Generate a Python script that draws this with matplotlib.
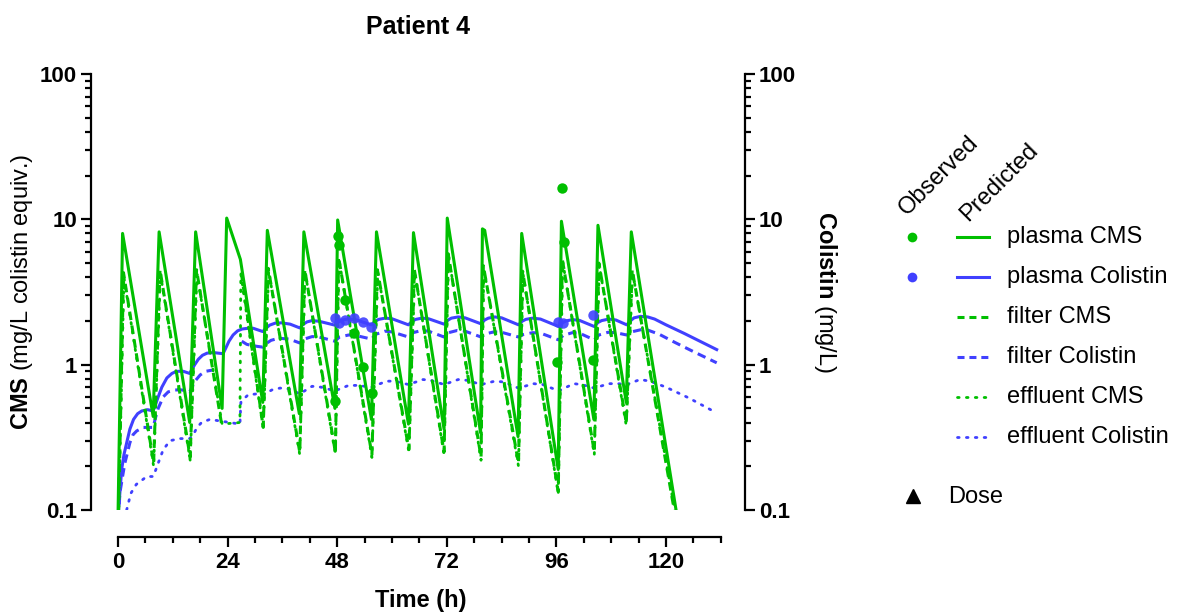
import matplotlib
matplotlib.use("Agg")
import numpy as np
import matplotlib.pyplot as plt
from matplotlib.ticker import FixedLocator, NullFormatter
from matplotlib.lines import Line2D

plt.rcParams['font.family'] = ['Liberation Sans', 'DejaVu Sans']
plt.rcParams['mathtext.fontset'] = 'custom'
plt.rcParams['mathtext.rm'] = 'Liberation Sans'
plt.rcParams['mathtext.bf'] = 'Liberation Sans:bold'

nan = np.nan

# ---------------- data ----------------
TITLE = "Patient 4"
X_TICKS = [0, 24, 48, 72, 96, 120]
Y_TICKS = [0.1, 1, 10, 100]
Y_TICK_LABELS = ["0.1", "1", "10", "100"]

plasma_cms_t = [0.0, 1.0, 7.7, 9.0, 15.7, 17.0, 22.8, 23.8, 26.8, 31.7, 32.7, 39.7, 40.7,
                47.5, 48.1, 55.5, 56.6, 63.6, 64.7, 71.4, 72.1, 79.4, 79.8, 80.3, 87.6, 88.4,
                96.4, 97.1, 104.2, 105.1, 111.3, 112.4, 122.2, 124.0]
plasma_cms_v = [0.09, 8.0, 0.44, 8.2, 0.40, 8.2, 0.50, 10.2, 5.3, 0.55, 8.4, 0.46, 8.2,
                0.50, 9.9, 0.42, 8.2, 0.39, 8.1, 0.36, 10.2, 0.34, 8.6, 8.4, 0.32, 8.0,
                0.19, 9.7, 0.42, 9.1, 0.55, 8.2, 0.10, 0.07]

filter_cms_t = [0.0, 1.2, 7.8, 9.2, 15.8, 17.2, 22.8, nan, 27.0, 31.8, 32.9, 39.8, 40.9,
                47.6, 48.3, 55.6, 56.8, 63.7, 64.9, 71.4, 72.3, 79.5, 80.0, 87.7, 88.6,
                96.4, 97.3, 104.3, 105.3, 111.3, 112.6, 121.8, 123.5]
filter_cms_v = [0.06, 4.3, 0.21, 4.5, 0.23, 4.5, 0.37, nan, 4.3, 0.37, 4.6, 0.25, 4.5,
                0.25, 5.5, 0.24, 4.5, 0.26, 4.5, 0.25, 5.8, 0.23, 4.8, 0.21, 4.4,
                0.134, 5.3, 0.25, 5.0, 0.40, 4.5, 0.10, 0.06]

effluent_cms_t = [0.0, 1.3, 7.8, 9.3, 15.8, 17.3, 22.8, 26.7, 26.9, 31.8, 33.0, 39.8, 41.0,
                  47.6, 48.4, 55.6, 56.9, 63.7, 65.0, 71.4, 72.4, 79.5, 80.1, 87.7, 88.7,
                  96.4, 97.4, 104.3, 105.4, 111.3, 112.7, 121.9, 123.5]
effluent_cms_v = [0.06, 4.0, 0.20, 4.2, 0.22, 4.2, 0.39, 0.40, 4.2, 0.36, 4.4, 0.24, 4.3,
                  0.24, 5.3, 0.23, 4.3, 0.25, 4.3, 0.24, 5.6, 0.22, 4.6, 0.20, 4.2,
                  0.13, 5.1, 0.24, 4.8, 0.38, 4.3, 0.10, 0.06]

plasma_col_t = [0.0, 0.4, 0.8, 1.3, 1.9, 2.6, 3.4, 4.3, 5.2, 6.5, 7.7,
                8.2, 8.8, 9.6, 10.7, 11.8, 12.8, 14.3, 15.7,
                16.2, 16.8, 17.6, 18.5, 19.5, 21.0, 23.0,
                23.6, 24.3, 25.2, 26.2, 27.2, 28.5, 29.6, 31.7,
                32.4, 33.2, 34.4, 35.8, 37.7, 39.8,
                40.6, 41.4, 42.5, 44.0, 47.5,
                48.3, 49.1, 50.3, 52.0, 55.5,
                56.3, 57.1, 58.5, 60.0, 63.6,
                64.4, 65.2, 66.6, 68.0, 71.4,
                72.2, 73.0, 74.5, 76.0, 79.5,
                80.3, 81.1, 82.5, 84.0, 87.7,
                88.5, 89.3, 90.8, 92.5, 96.5,
                97.3, 98.1, 99.5, 101.0, 104.3,
                105.1, 105.9, 107.5, 109.0, 111.4,
                112.2, 113.0, 114.4, 116.0, 117.5, 120.0, 124.0, 128.0, 131.1]
plasma_col_v = [0.09, 0.13, 0.19, 0.24, 0.29, 0.36, 0.42, 0.46, 0.48, 0.49, 0.48,
                0.53, 0.60, 0.70, 0.81, 0.87, 0.90, 0.90, 0.87,
                0.93, 1.00, 1.09, 1.16, 1.20, 1.21, 1.19,
                1.30, 1.45, 1.60, 1.71, 1.76, 1.78, 1.78, 1.69,
                1.78, 1.87, 1.93, 1.94, 1.90, 1.79,
                1.90, 1.97, 2.01, 1.99, 1.87,
                1.97, 2.03, 2.06, 2.04, 1.88,
                1.99, 2.05, 2.09, 2.07, 1.88,
                1.99, 2.05, 2.09, 2.07, 1.90,
                2.02, 2.09, 2.13, 2.10, 1.91,
                2.03, 2.09, 2.13, 2.10, 1.88,
                1.99, 2.05, 2.09, 2.06, 1.83,
                1.94, 2.00, 2.04, 2.02, 1.83,
                1.95, 2.01, 2.06, 2.03, 1.88,
                2.00, 2.10, 2.15, 2.13, 2.06, 1.88, 1.64, 1.42, 1.27]

filter_col_t = [0.0, 0.4, 1.0, 1.5, 2.1, 2.6, 3.3, 4.1, 5.5, 7.7,
                8.2, 8.8, 9.9, 11.0, 12.5, 14.0, 15.7,
                16.3, 17.0, 18.0, 19.2, 20.9, nan,
                27.1, 28.2, 29.5, 31.7, 32.5, 33.5, 35.2, 37.5, 39.8,
                40.8, 42.5, 44.0, 47.5,
                48.5, 50.5, 52.0, 55.5,
                56.5, 58.5, 60.0, 63.6,
                64.6, 66.5, 68.0, 71.4,
                72.4, 74.3, 76.0, 79.5,
                80.5, 82.3, 84.0, 87.7,
                88.7, 90.8, 92.5, 96.5,
                97.5, 99.5, 101.0, 104.3,
                105.3, 107.3, 109.0, 111.4,
                112.4, 114.5, 116.0, 118.5, 122.0, 126.0, 131.1]
filter_col_v = [0.07, 0.13, 0.17, 0.21, 0.25, 0.29, 0.33, 0.35, 0.37, 0.37,
                0.43, 0.50, 0.60, 0.65, 0.67, 0.67, 0.65,
                0.71, 0.78, 0.85, 0.90, 0.92, nan,
                1.45, 1.38, 1.35, 1.32, 1.40, 1.47, 1.52, 1.50, 1.41,
                1.50, 1.56, 1.55, 1.45,
                1.55, 1.60, 1.59, 1.50,
                1.62, 1.70, 1.68, 1.55,
                1.66, 1.72, 1.70, 1.55,
                1.66, 1.72, 1.70, 1.55,
                1.63, 1.68, 1.67, 1.55,
                1.61, 1.66, 1.65, 1.48,
                1.59, 1.66, 1.65, 1.48,
                1.60, 1.67, 1.66, 1.60,
                1.68, 1.74, 1.73, 1.62, 1.42, 1.23, 1.03]

effluent_col_t = [0.3, 1.9, 2.8, 4.0, 5.2, 6.3, 7.7, 8.3, 8.8, 9.9, 11.4, 13.6, 15.7,
                  16.5, 17.3, 18.3, 20.1, 22.3, 26.7, 26.9, 27.5, 28.5, 30.5, 31.7,
                  33.7, 35.5, 37.5, 39.8, 42.5, 44.5, 47.5, 50.5, 52.5, 55.5,
                  58.8, 60.5, 63.6, 66.8, 68.5, 71.4, 74.5, 76.5, 79.5, 82.5, 84.5,
                  87.7, 91.0, 93.0, 96.5, 99.8, 101.5, 104.3, 107.5, 109.5, 111.4,
                  114.3, 116.5, 120.0, 125.0, 130.3]
effluent_col_v = [0.05, 0.10, 0.13, 0.15, 0.16, 0.17, 0.17, 0.19, 0.21, 0.26, 0.30, 0.31, 0.31,
                  0.33, 0.37, 0.40, 0.42, 0.41, 0.39, 0.55, 0.58, 0.62, 0.63, 0.62,
                  0.67, 0.69, 0.68, 0.63, 0.71, 0.70, 0.66, 0.72, 0.72, 0.70,
                  0.77, 0.77, 0.73, 0.79, 0.78, 0.73, 0.79, 0.78, 0.73, 0.77, 0.76,
                  0.69, 0.74, 0.73, 0.66, 0.74, 0.73, 0.69, 0.74, 0.74, 0.73,
                  0.79, 0.77, 0.70, 0.59, 0.48]

obs_cms_t = [47.5, 48.2, 48.5, 49.7, 51.7, 53.7, 55.7, 96.2, 97.2, 97.7, 104.1]
obs_cms_v = [0.56, 7.7, 6.7, 2.8, 1.65, 0.97, 0.64, 1.05, 16.5, 7.0, 1.07]
obs_col_t = [47.5, 48.5, 49.7, 51.7, 53.6, 55.5, 96.4, 97.5, 104.1]
obs_col_v = [2.09, 1.93, 2.04, 2.09, 1.98, 1.83, 1.98, 1.93, 2.20]

legend_labels = ["plasma CMS", "plasma Colistin", "filter CMS", "filter Colistin",
                 "effluent CMS", "effluent Colistin"]

# ---------------- styling ----------------
GREEN = '#00BF00'
BLUE = '#4040FF'
W, H = 1182, 616
LW = 2.2
DASH = (2.8, 1.8)
DOT = (0.6, 2.6)

fig = plt.figure(figsize=(W / 100, H / 100), dpi=100)
ax = fig.add_axes([91 / W, 1 - 510 / H, (745 - 91) / W, (510 - 74) / H])
px_per_h = (666 - 118) / 120.0
ax.set_xlim((91 - 118) / px_per_h, (745 - 118) / px_per_h)
ax.set_yscale('log')
ax.set_ylim(0.1, 100)

# blue series
ax.plot(effluent_col_t, effluent_col_v, color=BLUE, lw=2.0, dashes=DOT,
        dash_capstyle='round', zorder=2)
ax.plot(filter_col_t, filter_col_v, color=BLUE, lw=LW, dashes=DASH, zorder=2)
ax.plot(plasma_col_t, plasma_col_v, color=BLUE, lw=LW, zorder=2)
# green series
ax.plot(effluent_cms_t, effluent_cms_v, color=GREEN, lw=2.0, dashes=DOT,
        dash_capstyle='round', zorder=3)
ax.plot(filter_cms_t, filter_cms_v, color=GREEN, lw=LW, dashes=DASH, zorder=3)
ax.plot(plasma_cms_t, plasma_cms_v, color=GREEN, lw=LW, zorder=3)
# observed
ax.plot(obs_col_t, obs_col_v, 'o', color=BLUE, ms=7.5, mec='none', alpha=0.9, zorder=4)
ax.plot(obs_cms_t, obs_cms_v, 'o', color=GREEN, ms=7.5, mec='none', zorder=4)

# axes styling
for s in ['top', 'right']:
    ax.spines[s].set_visible(False)
ax.spines['left'].set_linewidth(1.6)
ax.spines['bottom'].set_linewidth(1.6)
ax.spines['bottom'].set_position(('outward', 27 * 0.72))
ax.spines['bottom'].set_bounds(0, 132)

ax.set_xticks(X_TICKS, [str(v) for v in X_TICKS], fontsize=16, fontweight='bold')
ax.xaxis.set_minor_locator(FixedLocator([v for v in range(0, 133, 6) if v % 24 != 0]))
ax.set_yticks(Y_TICKS, Y_TICK_LABELS, fontsize=16, fontweight='bold')
minor_y = [m * 10.0 ** e for e in (-1, 0, 1) for m in range(2, 10)]
ax.yaxis.set_minor_locator(FixedLocator(minor_y))
ax.yaxis.set_minor_formatter(NullFormatter())
ax.tick_params(which='major', length=7, width=1.6, direction='out', pad=3)
ax.tick_params(which='minor', length=4.5, width=1.6, direction='out')
ax.tick_params(axis='x', which='major', pad=4)

tw = ax.twinx()
tw.set_yscale('log')
tw.set_ylim(0.1, 100)
for s in ['top', 'left', 'bottom']:
    tw.spines[s].set_visible(False)
tw.spines['right'].set_linewidth(1.6)
tw.set_yticks(Y_TICKS, Y_TICK_LABELS, fontsize=16, fontweight='bold')
tw.yaxis.set_minor_locator(FixedLocator(minor_y))
tw.yaxis.set_minor_formatter(NullFormatter())
tw.tick_params(which='major', length=7, width=1.6, direction='out', pad=3)
tw.tick_params(which='minor', length=4.5, width=1.6, direction='out')

# titles & labels
fig.text(418 / W, 1 - 27 / H, TITLE, ha='center', va='center', fontsize=18, fontweight='bold')
fig.text(421 / W, 1 - 600 / H, "Time (h)", ha='center', va='center', fontsize=17, fontweight='bold')
fig.text(22 / W, 1 - 292 / H, r"$\mathbf{CMS}$ (mg/L colistin equiv.)", rotation=90,
         ha='center', va='center', fontsize=17)
fig.text(826 / W, 1 - 292 / H, r"$\mathbf{Colistin}$ (mg/L)", rotation=-90,
         ha='center', va='center', fontsize=17)

# legend drawn in pixel coordinates
lg = fig.add_axes([0, 0, 1, 1], zorder=5)
lg.set_xlim(0, W)
lg.set_ylim(H, 0)
lg.axis('off')
lg.patch.set_alpha(0)
lg.text(907, 216, "Observed", rotation=45, rotation_mode='anchor', ha='left', va='baseline', fontsize=17)
lg.text(968, 222, "Predicted", rotation=45, rotation_mode='anchor', ha='left', va='baseline', fontsize=17)
row_y = [237, 277, 317, 357, 397, 437]
styles = [dict(color=GREEN), dict(color=BLUE),
          dict(color=GREEN, dashes=(2.3, 1.6)), dict(color=BLUE, dashes=(2.3, 1.6)),
          dict(color=GREEN, dashes=(0.6, 2.6), dash_capstyle='round'),
          dict(color=BLUE, dashes=(0.6, 2.6), dash_capstyle='round')]
for y, lab, st in zip(row_y, legend_labels, styles):
    lw = 2.0 if 'effluent' in lab else LW
    lg.add_line(Line2D([957, 989], [y, y], lw=lw, **st))
    lg.text(1007, y, lab, ha='left', va='center', fontsize=17)
lg.plot([912], [row_y[0]], 'o', color=GREEN, ms=7, mec='none')
lg.plot([912], [row_y[1]], 'o', color=BLUE, ms=7, mec='none')
lg.plot([913], [496], '^', color='black', ms=10)
lg.text(948, 497, "Dose", ha='left', va='center', fontsize=17)

fig.savefig("out.png", dpi=100)
